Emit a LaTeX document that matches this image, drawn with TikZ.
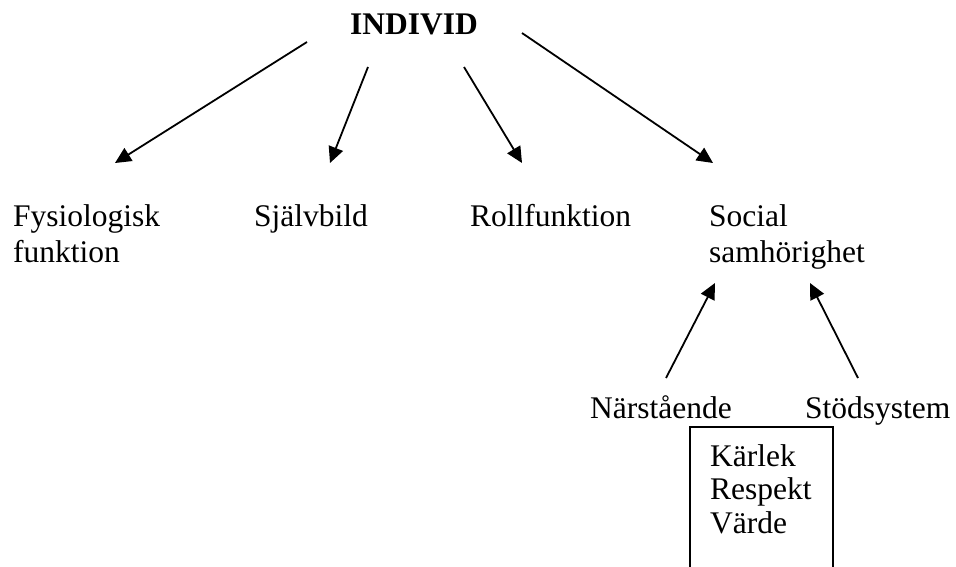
\documentclass[tikz,border=0pt]{standalone}
\usepackage{fontspec}
\setmainfont{Liberation Serif}
\usetikzlibrary{arrows.meta}
\tikzset{
  lbl/.style={anchor=base west, inner sep=0pt, font=\fontsize{31.5}{36.5}\selectfont},
  conn/.style={line width=1.8pt, -{Triangle[length=16pt,width=15pt]}},
  frame/.style={line width=1.8pt}
}
\begin{document}
\begin{tikzpicture}[x=1pt,y=-1pt]
\useasboundingbox (0,0) rectangle (956,567);
\node[lbl, font=\fontsize{31.5}{36.5}\selectfont\bfseries] (indiv) at (350,35) {INDIVID};
\node[lbl] (fys) at (13,226) {\begin{tabular}[t]{@{}l@{}}Fysiologisk\\funktion\end{tabular}};
\node[lbl] (sjalv) at (254,226) {Självbild};
\node[lbl] (roll) at (470,226) {Rollfunktion};
\node[lbl] (social) at (709,226) {\begin{tabular}[t]{@{}l@{}}Social\\samhörighet\end{tabular}};
\node[lbl] (nar) at (590,418) {Närstående};
\node[lbl] (stod) at (805,418) {Stödsystem};
\node[lbl, font=\fontsize{31.5}{33.5}\selectfont] (varden) at (710,466) {\begin{tabular}[t]{@{}l@{}}Kärlek\\Respekt\\Värde\end{tabular}};
% connector end points
\coordinate (i1) at (307,42);  \coordinate (f1) at (115,163);
\coordinate (i2) at (368,67);  \coordinate (s2) at (330,163);
\coordinate (i3) at (464,67);  \coordinate (r3) at (522,163);
\coordinate (i4) at (522,33);  \coordinate (so4) at (713,163);
\coordinate (n5) at (666,378); \coordinate (so5) at (715,283);
\coordinate (st6) at (858,378); \coordinate (so6) at (810,283);
\draw[conn] (i1) -- (f1);
\draw[conn] (i2) -- (s2);
\draw[conn] (i3) -- (r3);
\draw[conn] (i4) -- (so4);
\draw[conn] (n5) -- (so5);
\draw[conn] (st6) -- (so6);
% open box
\coordinate (bl) at (690,570);
\coordinate (tr) at (833,427);
\coordinate (br) at (833,570);
\draw[frame] (bl) |- (tr) -- (br);
\end{tikzpicture}
\end{document}
